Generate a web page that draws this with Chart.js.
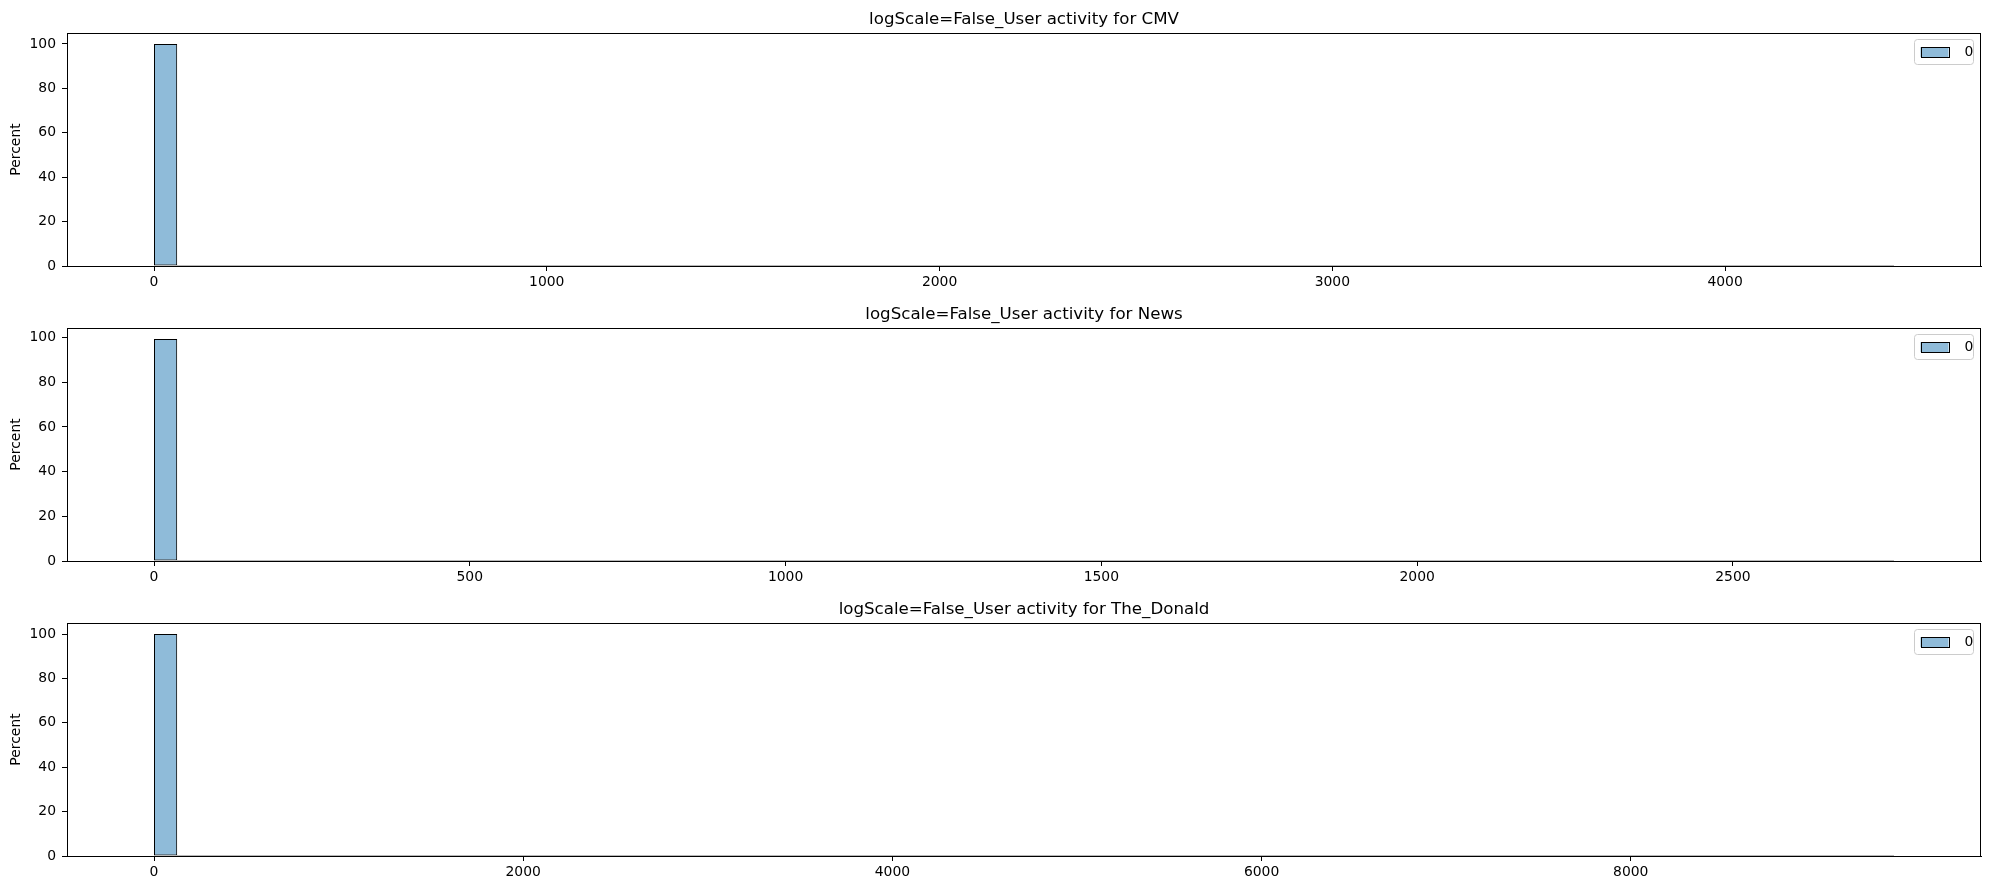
<!DOCTYPE html>
<html><head><meta charset="utf-8">
<script src="https://cdn.jsdelivr.net/npm/chart.js@4.4.0/dist/chart.umd.min.js"></script>
<style>
html,body{margin:0;padding:0;background:#fff;width:1990px;height:890px;overflow:hidden}
canvas{position:absolute;left:0}
</style></head><body>
<canvas id="c1" width="1990" height="295" style="top:0px"></canvas>
<canvas id="c2" width="1990" height="295" style="top:295px"></canvas>
<canvas id="c3" width="1990" height="300" style="top:590px"></canvas>
<script>
// ---- data ----
const titleCMV = 'logScale=False_User activity for CMV';
const titleNews = 'logScale=False_User activity for News';
const titleDonald = 'logScale=False_User activity for The_Donald';
const seriesLabel = '0';
const yLabel = 'Percent';

const binRangeCMV = [0, 4430];
const binRangeNews = [0, 2755];
const binRangeDonald = [0, 9426];

const percentCMV = [
  99.95, 0.03, 0.01, 0.01, 0, 0, 0, 0, 0, 0, 0, 0, 0, 0, 0,
  0, 0, 0, 0, 0, 0, 0, 0, 0, 0, 0, 0, 0, 0, 0,
  0, 0, 0, 0, 0, 0, 0, 0, 0, 0, 0, 0, 0, 0, 0,
  0, 0, 0, 0, 0, 0, 0, 0, 0, 0, 0, 0, 0, 0, 0,
  0, 0, 0, 0, 0, 0, 0, 0, 0, 0, 0, 0, 0, 0, 0
];
const percentNews = [
  99.3, 0.5, 0.1, 0.04, 0.02, 0.01, 0.01, 0, 0, 0, 0, 0, 0, 0, 0,
  0, 0, 0, 0, 0, 0, 0, 0, 0, 0, 0, 0, 0, 0, 0,
  0, 0, 0, 0, 0, 0, 0, 0, 0, 0, 0, 0, 0, 0, 0,
  0, 0, 0, 0, 0, 0, 0, 0, 0, 0, 0, 0, 0, 0, 0,
  0, 0, 0, 0, 0, 0, 0, 0, 0, 0, 0, 0, 0, 0, 0
];
const percentDonald = [
  99.96, 0.02, 0.01, 0.01, 0, 0, 0, 0, 0, 0, 0, 0, 0, 0, 0,
  0, 0, 0, 0, 0, 0, 0, 0, 0, 0, 0, 0, 0, 0, 0,
  0, 0, 0, 0, 0, 0, 0, 0, 0, 0, 0, 0, 0, 0, 0,
  0, 0, 0, 0, 0, 0, 0, 0, 0, 0, 0, 0, 0, 0, 0,
  0, 0, 0, 0, 0, 0, 0, 0, 0, 0, 0, 0, 0, 0, 0
];

const xTicksCMV = [0, 1000, 2000, 3000, 4000];
const xTicksNews = [0, 500, 1000, 1500, 2000, 2500];
const xTicksDonald = [0, 2000, 4000, 6000, 8000];
const yTicks = [0, 20, 40, 60, 80, 100];

// ---- styling ----
const FONT = 'DejaVu Sans';
const barFill = 'rgba(31,119,180,0.5)';
const AXIS_BOTTOM = 266;

const framePlugin = {
  id: 'frame',
  afterDatasetsDraw(chart, args, opts) {
    const ctx = chart.ctx;
    const xs = chart.scales.x, ys = chart.scales.y;
    const rng = opts.binRange;
    if (!rng) return;
    ctx.save();
    ctx.strokeStyle = '#b8b8b8';
    ctx.lineWidth = 1;
    const y0 = Math.round(ys.getPixelForValue(0)) - 0.5;
    ctx.beginPath();
    ctx.moveTo(xs.getPixelForValue(rng[0]), y0);
    ctx.lineTo(xs.getPixelForValue(rng[1]), y0);
    ctx.stroke();
    ctx.restore();
  },
  afterDraw(chart) {
    const ctx = chart.ctx, a = chart.chartArea;
    ctx.save();
    ctx.strokeStyle = '#000';
    ctx.lineWidth = 1;
    const l = Math.round(a.left) + 0.5, t = Math.round(a.top) + 0.5;
    const r = Math.round(a.right) - 0.5, b = Math.round(a.bottom) + 0.5;
    ctx.strokeRect(l, t, r - l, b - t);
    // legend
    const bw = 59, bh = 25;
    const x = a.right - 7.5 - bw, y = a.top + 6.5;
    const rad = 3;
    ctx.beginPath();
    ctx.moveTo(x + rad, y);
    ctx.lineTo(x + bw - rad, y);
    ctx.arcTo(x + bw, y, x + bw, y + rad, rad);
    ctx.lineTo(x + bw, y + bh - rad);
    ctx.arcTo(x + bw, y + bh, x + bw - rad, y + bh, rad);
    ctx.lineTo(x + rad, y + bh);
    ctx.arcTo(x, y + bh, x, y + bh - rad, rad);
    ctx.lineTo(x, y + rad);
    ctx.arcTo(x, y, x + rad, y, rad);
    ctx.closePath();
    ctx.fillStyle = 'rgba(255,255,255,0.8)';
    ctx.fill();
    ctx.strokeStyle = '#cccccc';
    ctx.stroke();
    const ds = chart.data.datasets[0];
    ctx.fillStyle = ds.backgroundColor;
    ctx.fillRect(x + 6, y + 7.5, 28, 10);
    ctx.strokeStyle = '#000';
    ctx.strokeRect(Math.round(x + 6) + 0.5, Math.round(y + 7.5) + 0.5, 28, 10);
    ctx.fillStyle = '#000';
    ctx.font = '13.9px "' + FONT + '"';
    ctx.textBaseline = 'middle';
    ctx.textAlign = 'left';
    ctx.fillText(ds.label, x + 50, y + bh / 2 + 0.5);
    ctx.restore();
  }
};

function makeChart(id, title, binRange, values, xTicks, canvasH) {
  const n = values.length;
  const w = (binRange[1] - binRange[0]) / n;
  const points = values.map((v, i) => ({ x: binRange[0] + (i + 0.5) * w, y: v }));
  const span = binRange[1] - binRange[0];
  const ymax = Math.max(...values) * 1.05;
  return new Chart(document.getElementById(id), {
    type: 'bar',
    data: {
      datasets: [{
        label: seriesLabel,
        data: points,
        backgroundColor: barFill,
        borderColor: '#000',
        borderWidth: 1,
        borderSkipped: false,
        barPercentage: 1,
        categoryPercentage: 1,
        inflateAmount: 0
      }]
    },
    options: {
      responsive: false,
      animation: false,
      devicePixelRatio: 1,
      layout: { padding: { left: 0, right: 9, top: 0, bottom: 0 } },
      plugins: {
        frame: { binRange: binRange },
        legend: { display: false },
        tooltip: { enabled: false },
        title: {
          display: true, text: title, color: '#000', fullSize: false,
          font: { family: FONT, size: 16.67, weight: 'normal', lineHeight: 1.2 },
          padding: { top: 10, bottom: 3 }
        }
      },
      scales: {
        x: {
          type: 'linear',
          offset: false,
          min: binRange[0] - 0.05 * span,
          max: binRange[1] + 0.05 * span,
          afterBuildTicks(s) { s.ticks = xTicks.map(v => ({ value: v })); },
          afterFit(s) { s.height = canvasH - AXIS_BOTTOM; },
          ticks: {
            color: '#000', font: { family: FONT, size: 13.9 }, padding: 3,
            maxRotation: 0, autoSkip: false, callback: v => String(v)
          },
          grid: { display: true, drawOnChartArea: false, drawTicks: true, tickLength: 5, color: '#000', offset: false },
          border: { display: true, color: '#000', width: 1 }
        },
        y: {
          min: 0,
          max: ymax,
          afterBuildTicks(s) { s.ticks = yTicks.map(v => ({ value: v })); },
          afterFit(s) { s.width = 67; },
          ticks: { color: '#000', font: { family: FONT, size: 13.9 }, padding: 6, callback: v => String(v) },
          grid: { display: true, drawOnChartArea: false, drawTicks: true, tickLength: 5, color: '#000' },
          border: { display: true, color: '#000', width: 1 },
          title: {
            display: true, text: yLabel, color: '#000',
            font: { family: FONT, size: 13.9, lineHeight: 1.2 },
            padding: { top: 8.5, bottom: 0 }
          }
        }
      }
    },
    plugins: [framePlugin]
  });
}

makeChart('c1', titleCMV, binRangeCMV, percentCMV, xTicksCMV, 295);
makeChart('c2', titleNews, binRangeNews, percentNews, xTicksNews, 295);
makeChart('c3', titleDonald, binRangeDonald, percentDonald, xTicksDonald, 300);
</script>
</body></html>
